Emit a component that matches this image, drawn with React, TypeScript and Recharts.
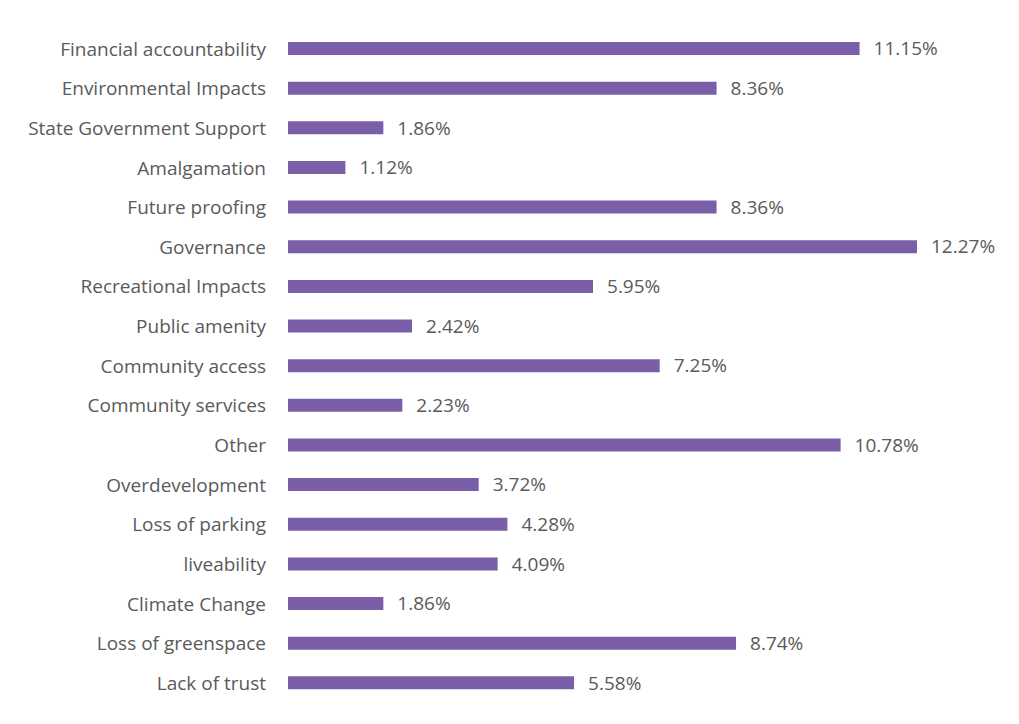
import React from 'react';
import { BarChart, Bar, XAxis, YAxis, LabelList } from 'recharts';

const categories = [
  'Financial accountability',
  'Environmental Impacts',
  'State Government Support',
  'Amalgamation',
  'Future proofing',
  'Governance',
  'Recreational Impacts',
  'Public amenity',
  'Community access',
  'Community services',
  'Other',
  'Overdevelopment',
  'Loss of parking',
  'liveability',
  'Climate Change',
  'Loss of greenspace',
  'Lack of trust',
];

const shares = [11.15, 8.36, 1.86, 1.12, 8.36, 12.27, 5.95, 2.42, 7.25, 2.23, 10.78, 3.72, 4.28, 4.09, 1.86, 8.74, 5.58];

const data = categories.map((name, i) => ({ name, value: shares[i] }));

const font = '"Open Sans", "Noto Sans", sans-serif';

const App = () => {
  return (
    <div style={{ fontFamily: font }}>
      <BarChart
        width={1003}
        height={700}
        data={data}
        layout="vertical"
        margin={{ top: 21, right: 94, bottom: 5, left: 0 }}
        barCategoryGap={14}
      >
        <XAxis type="number" domain={[0, 'dataMax']} hide />
        <YAxis
          type="category"
          dataKey="name"
          width={280}
          axisLine={false}
          tickLine={false}
          tickSize={0}
          tickMargin={22}
          interval={0}
          tick={{ fill: '#5a5a5a', fontSize: 19, fontFamily: font }}
        />
        <Bar dataKey="value" fill="#7b5ea8" barSize={13} isAnimationActive={false}>
          <LabelList
            dataKey="value"
            position="right"
            offset={14}
            formatter={(v: number) => `${v.toFixed(2)}%`}
            style={{ fill: '#5a5a5a', fontSize: 19, fontFamily: font }}
          />
        </Bar>
      </BarChart>
    </div>
  );
};

export default App;
